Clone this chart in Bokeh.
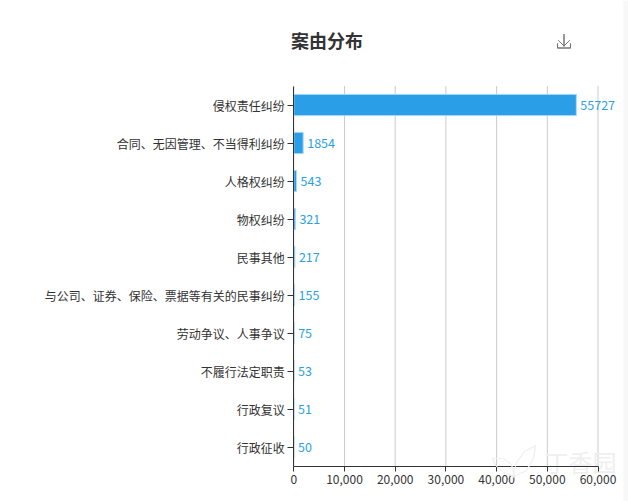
from bokeh.plotting import figure
from bokeh.models import ColumnDataSource, Range1d, Label, PolyAnnotation, BoxAnnotation, NumeralTickFormatter, FixedTicker
from bokeh.core.properties import value
from bokeh.embed import file_html
from bokeh.resources import INLINE

categories = ["侵权责任纠纷", "合同、无因管理、不当得利纠纷", "人格权纠纷", "物权纠纷", "民事其他",
              "与公司、证券、保险、票据等有关的民事纠纷", "劳动争议、人事争议", "不履行法定职责", "行政复议", "行政征收"]
counts = [55727, 1854, 543, 321, 217, 155, 75, 53, 51, 50]
x_ticks = [0, 10000, 20000, 30000, 40000, 50000, 60000]
title_text = "案由分布"
watermark_text = "丁香园"
FONT = "Noto Sans CJK SC"

W, H = 628, 501
# the frame fills the whole figure so that no text gets clipped; axes are pinned inside it
AX_LEFT, AX_RIGHT = 293.3, 597.5
AX_TOP, AX_BOTTOM = 85.5, 465.5
ROW = (AX_BOTTOM - AX_TOP) / len(categories)
UNIT = x_ticks[-1] / (AX_RIGHT - AX_LEFT)
positions = list(range(len(categories)))
lo, hi = -0.5, len(categories) - 0.5

p = figure(width=W, height=H, output_backend="svg", toolbar_location=None,
           x_range=Range1d(-AX_LEFT * UNIT, (W - AX_LEFT) * UNIT),
           y_range=Range1d(hi + (H - AX_BOTTOM) / ROW, lo - AX_TOP / ROW),
           min_border_left=0, min_border_right=0, min_border_top=0, min_border_bottom=0)
p.outline_line_color = None
p.background_fill_color = "white"
p.border_fill_color = "white"
p.xgrid.visible = False
p.ygrid.visible = False

# vertical grid lines, limited to the axes' extent
p.segment(x0=x_ticks, x1=x_ticks, y0=[lo] * len(x_ticks), y1=[hi] * len(x_ticks),
          line_color="#cccccc", line_width=1, level="underlay")

src = ColumnDataSource(dict(pos=positions, n=counts, label=[str(c) for c in counts]))
p.hbar(y="pos", right="n", left=0, height=0.56, source=src, fill_color="#2a9ee6",
       line_color="#aedaf5", line_width=1)
p.text(x="n", y="pos", text="label", source=src, x_offset=4, y_offset=-0.5, text_baseline="middle",
       text_align="left", text_color="#2a9fe8", text_font=value(FONT), text_font_size="12.5px")

p.xaxis.ticker = FixedTicker(ticks=x_ticks)
p.xaxis.formatter = NumeralTickFormatter(format="0,0")
p.xaxis.bounds = (x_ticks[0], x_ticks[-1])
p.xaxis.fixed_location = hi
p.xaxis.minor_tick_line_color = None
p.xaxis.major_tick_in = 0
p.xaxis.major_tick_out = 5
p.xaxis.major_label_standoff = 4
p.yaxis.ticker = FixedTicker(ticks=positions)
p.yaxis.major_label_overrides = dict(zip(positions, categories))
p.yaxis.bounds = (lo, hi)
p.yaxis.fixed_location = 0
p.yaxis.minor_tick_line_color = None
p.yaxis.major_tick_in = 0
p.yaxis.major_tick_out = 6
p.yaxis.major_label_standoff = 3
for ax in (p.xaxis, p.yaxis):
    ax.axis_line_color = "#333333"
    ax.major_tick_line_color = "#333333"
    ax.major_label_text_color = "#333333"
    ax.major_label_text_font = FONT
    ax.major_label_text_font_size = "12px"

# annotations in screen units are measured from the frame's lower-left corner
def sy(y):
    return H - y

p.add_layout(Label(x=326.5, y=sy(39.5), x_units="screen", y_units="screen", text=title_text,
                   text_font=FONT, text_font_size="18px", text_font_style="bold",
                   text_color="#333333", text_align="center", text_baseline="middle"))

# watermark
p.add_layout(Label(x=580, y=sy(461), x_units="screen", y_units="screen", text=watermark_text,
                   text_font=FONT, text_font_size="24px", text_color="#efefef",
                   text_align="center", text_baseline="middle", level="underlay"))

def path(xs, ys, color):
    yy = [sy(y) for y in ys]
    p.add_layout(PolyAnnotation(xs=xs + xs[::-1], ys=yy + yy[::-1], xs_units="screen", ys_units="screen",
                                fill_alpha=0, line_color=color, line_alpha=1, line_width=1))

# watermark leaves
path([512, 516, 524, 535, 533, 526, 516, 512], [477, 462, 451, 445, 458, 470, 475, 477], "#f0f0f0")
path([492, 503, 511, 514, 503, 495, 492], [458, 458, 464, 476, 472, 465, 458], "#f0f0f0")

# download icon
path([563.5, 563.5], [33.5, 46], "#777777")
path([558, 563.5, 569], [40, 45.5, 40], "#777777")
path([557, 557, 570, 570], [43, 47.5, 47.5, 43], "#777777")

# faint strip at the page's right edge
p.add_layout(BoxAnnotation(left=623, right=W, top=sy(0), bottom=sy(H), left_units="screen", right_units="screen",
                           top_units="screen", bottom_units="screen", fill_color="#f8f8f8", fill_alpha=1,
                           line_alpha=0, level="underlay"))

open("out.html", "w").write(file_html(p, INLINE))
